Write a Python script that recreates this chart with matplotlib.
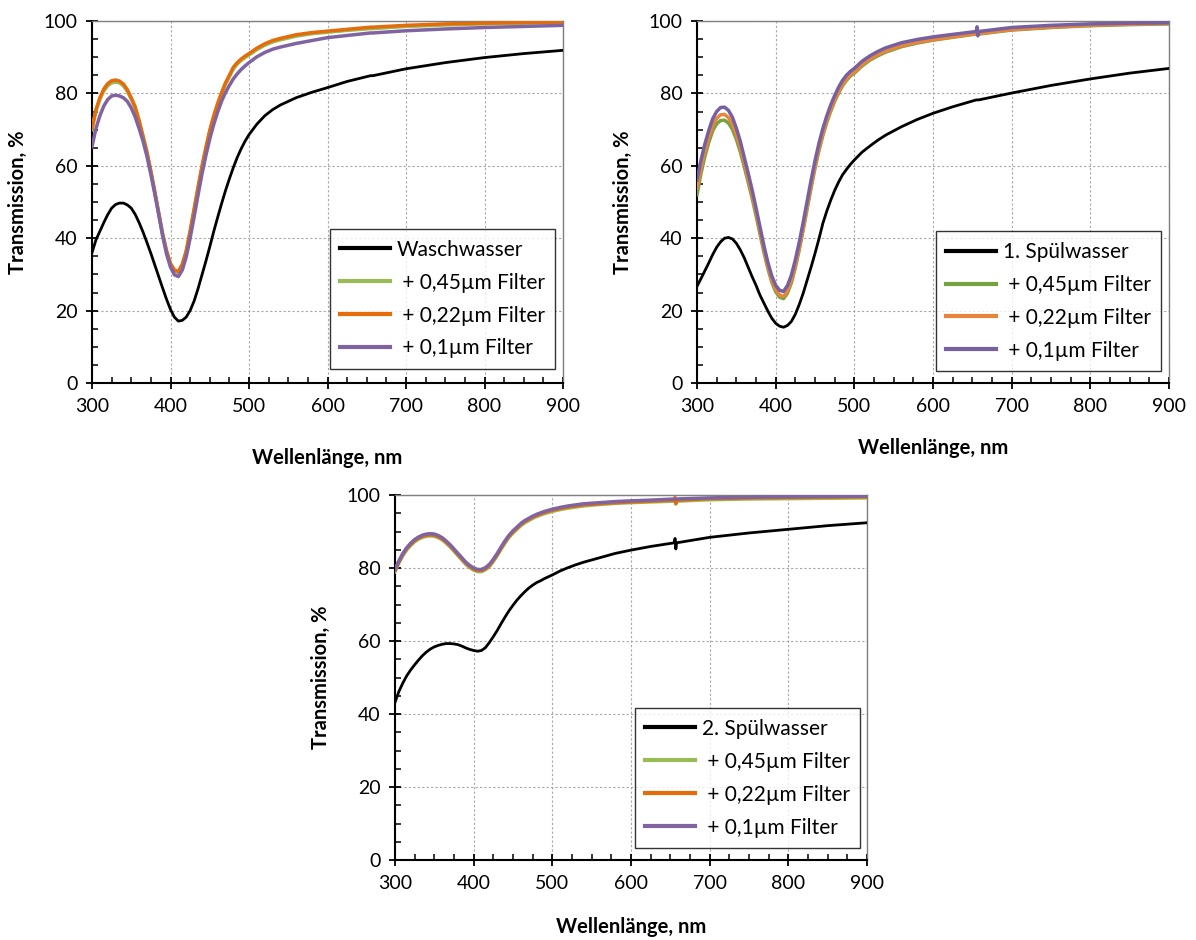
import matplotlib
matplotlib.use("Agg")
import matplotlib.pyplot as plt
from matplotlib.ticker import MultipleLocator

plt.rcParams['font.family'] = ['Lato', 'DejaVu Sans']

# Wellenlängen (nm), gemeinsam für alle drei Diagramme
wl = [300, 305, 310, 315, 320, 325, 330, 335, 340, 345, 350, 355, 360, 365, 370,
      375, 380, 385, 390, 395, 400, 405, 410, 415, 420, 425, 430, 435, 440, 445,
      450, 455, 460, 465, 470, 475, 480, 485, 490, 495, 500, 510, 520, 530, 540,
      560, 580, 600, 625, 655, 656, 657, 658, 700, 750, 800, 850, 900]

# Diagramm 1: Waschwasser
wasch = [36.0, 39.5, 41.9, 44.3, 46.5, 48.3, 49.3, 49.7, 49.7, 49.2, 48.3, 46.6,
         44.3, 41.7, 38.8, 35.8, 32.6, 29.4, 26.2, 23.1, 20.3, 18.2, 17.1, 17.3,
         18.2, 20.0, 22.6, 26.0, 29.8, 33.6, 37.6, 41.8, 45.7, 49.5, 53.1, 56.4,
         59.5, 62.3, 64.7, 66.8, 68.6, 71.5, 73.8, 75.5, 76.8, 78.8, 80.3,
         81.6, 83.3, 84.9, 84.9, 84.9, 84.9, 86.8, 88.5, 89.9, 91.0, 91.9]
wasch_045 = [70.0, 75.0, 78.3, 80.7, 82.1, 82.9, 83.1, 82.9, 82.1, 80.6, 78.4,
             75.9, 72.2, 68.0, 63.6, 58.3, 52.7, 46.8, 41.0, 36.3, 32.8, 31.0,
             30.5, 32.5, 36.2, 41.6, 47.6, 53.6, 59.4, 64.6, 69.4, 73.4, 76.8,
             79.8, 82.5, 84.6, 86.8, 88.1, 89.1, 89.9, 90.6, 92.1, 93.3, 94.2, 94.8,
             95.8, 96.5, 96.9, 97.4, 97.9, 97.9, 97.9, 97.9, 98.5, 98.9, 99.2, 99.4,
             99.5]
wasch_022 = [70.5, 75.5, 78.8, 81.2, 82.7, 83.5, 83.7, 83.4, 82.6, 81.0, 78.8,
             76.3, 72.5, 68.2, 63.8, 58.5, 52.9, 47.0, 41.2, 36.5, 33.0, 31.2,
             30.8, 32.8, 36.5, 42.0, 48.0, 54.0, 59.8, 65.0, 69.8, 73.8, 77.2,
             80.2, 82.9, 85.0, 87.2, 88.5, 89.5, 90.3, 91.0, 92.5, 93.7, 94.6, 95.2,
             96.2, 96.8, 97.2, 97.7, 98.3, 98.3, 98.3, 98.3, 98.8, 99.2, 99.4, 99.6,
             99.7]
wasch_01 = [65.3, 70.3, 73.8, 76.5, 78.3, 79.3, 79.5, 79.3, 78.8, 77.8, 76.0,
            73.5, 70.3, 66.8, 62.6, 57.6, 52.2, 46.5, 40.6, 35.6, 32.0, 29.9,
            29.4, 31.2, 34.8, 40.0, 45.8, 51.8, 57.6, 62.8, 67.4, 71.4, 74.8,
            77.8, 80.2, 82.2, 84.0, 85.4, 86.6, 87.6, 88.5, 90.1, 91.3, 92.2, 92.8,
            93.8, 94.6, 95.4, 96.0, 96.7, 96.7, 96.7, 96.7, 97.3, 97.8, 98.2, 98.5,
            98.8]

# Diagramm 2: 1. Spülwasser
spuel1 = [26.7, 28.8, 31.0, 33.2, 35.5, 37.5, 39.0, 40.0, 40.2, 39.8, 38.6, 36.8,
          34.6, 32.0, 29.4, 27.0, 24.3, 22.1, 19.9, 17.9, 16.5, 15.7, 15.4, 15.9,
          17.0, 19.0, 21.7, 24.8, 28.4, 32.0, 35.8, 39.8, 44.1, 47.5, 50.5, 53.2,
          55.5, 57.5, 59.0, 60.4, 61.6, 63.8, 65.5, 67.1, 68.5, 70.8, 72.8,
          74.5, 76.3, 78.2, 78.2, 78.2, 78.2, 80.1, 82.2, 84.0, 85.6, 86.9]
spuel1_045 = [52.0, 57.8, 62.6, 66.5, 69.7, 71.6, 72.5, 72.6, 71.8, 70.1, 67.3,
              63.9, 59.8, 55.5, 51.1, 46.3, 41.2, 36.2, 31.7, 27.9, 25.2, 23.7,
              23.3, 24.8, 27.7, 31.9, 36.8, 42.3, 48.1, 53.9, 59.4, 64.2, 68.4,
              72.0, 75.1, 77.8, 80.1, 82.1, 83.6, 84.8, 85.6, 87.6, 89.2, 90.4, 91.4,
              92.9, 93.9, 94.7, 95.5, 96.4, 96.4, 96.4, 96.4, 97.5, 98.2, 98.7, 99.0,
              99.2]
spuel1_022 = [53.8, 59.4, 64.0, 67.9, 71.1, 73.1, 74.1, 74.2, 73.3, 71.5, 68.6,
              65.1, 60.9, 56.5, 52.0, 47.1, 42.0, 36.9, 32.3, 28.5, 25.8, 24.3,
              23.9, 25.4, 28.3, 32.4, 37.3, 42.8, 48.6, 54.4, 59.8, 64.6, 68.8,
              72.4, 75.4, 78.1, 80.4, 82.4, 83.9, 85.1, 85.9, 87.9, 89.5, 90.7, 91.7,
              93.1, 94.1, 94.8, 95.6, 96.5, 96.5, 96.5, 96.5, 97.6, 98.3, 98.8, 99.1,
              99.3]
spuel1_01 = [56.1, 61.5, 66.0, 69.8, 73.0, 75.0, 76.1, 76.2, 75.3, 73.4, 70.4,
             66.8, 62.4, 58.0, 53.4, 48.4, 43.2, 38.0, 33.4, 29.6, 27.0, 25.6,
             25.3, 26.9, 29.8, 34.0, 38.9, 44.4, 50.2, 56.0, 61.4, 66.2, 70.3,
             73.8, 76.8, 79.4, 81.7, 83.6, 85.0, 86.1, 86.9, 88.9, 90.4, 91.6, 92.6,
             94.0, 94.9, 95.6, 96.3, 97.1, 98.4, 95.9, 97.1, 98.2, 98.8, 99.2, 99.4,
             99.5]

# Diagramm 3: 2. Spülwasser
spuel2 = [43.2, 46.2, 48.5, 50.5, 52.1, 53.5, 54.8, 56.0, 57.0, 57.8, 58.4, 58.8,
          59.1, 59.3, 59.3, 59.2, 59.0, 58.6, 58.1, 57.7, 57.4, 57.2, 57.4, 58.2,
          59.6, 61.2, 62.9, 64.8, 66.6, 68.3, 69.8, 71.2, 72.4, 73.5, 74.5, 75.3,
          76.0, 76.5, 77.1, 77.6, 78.1, 79.2, 80.1, 80.9, 81.6, 82.8, 84.0,
          84.9, 85.9, 86.9, 88.1, 85.2, 86.9, 88.4, 89.6, 90.6, 91.6, 92.4]
spuel2_045 = [79.0, 81.4, 83.4, 85.0, 86.2, 87.2, 87.9, 88.4, 88.7, 88.8, 88.7,
              88.3, 87.7, 86.8, 85.8, 84.6, 83.4, 82.2, 81.0, 80.1, 79.4, 79.0,
              79.0, 79.5, 80.4, 81.8, 83.4, 85.2, 86.9, 88.4, 89.6, 90.6, 91.6,
              92.4, 93.0, 93.6, 94.1, 94.5, 94.9, 95.2, 95.5, 96.0, 96.4, 96.7, 97.0,
              97.4, 97.7, 97.9, 98.1, 98.3, 98.3, 97.6, 98.3, 98.7, 98.9, 99.0, 99.1,
              99.2]
spuel2_022 = [79.3, 81.7, 83.7, 85.3, 86.5, 87.5, 88.2, 88.7, 89.0, 89.1, 89.0,
              88.6, 88.0, 87.1, 86.1, 84.9, 83.7, 82.5, 81.3, 80.4, 79.7, 79.3,
              79.3, 79.8, 80.7, 82.1, 83.7, 85.5, 87.2, 88.7, 89.9, 90.9, 91.9,
              92.7, 93.3, 93.9, 94.4, 94.8, 95.2, 95.5, 95.8, 96.3, 96.7, 97.0, 97.3,
              97.6, 97.9, 98.1, 98.3, 98.6, 99.3, 97.6, 98.6, 99.0, 99.2, 99.3, 99.4,
              99.5]
spuel2_01 = [79.6, 82.0, 84.0, 85.6, 86.8, 87.8, 88.5, 89.0, 89.3, 89.4, 89.3,
             88.9, 88.3, 87.4, 86.4, 85.2, 84.0, 82.8, 81.6, 80.7, 80.0, 79.6,
             79.6, 80.1, 81.0, 82.4, 84.0, 85.8, 87.5, 89.0, 90.2, 91.2, 92.2,
             93.0, 93.6, 94.2, 94.7, 95.1, 95.5, 95.8, 96.1, 96.6, 97.0, 97.3, 97.6,
             97.9, 98.2, 98.4, 98.6, 98.9, 98.9, 98.9, 98.9, 99.2, 99.4, 99.5, 99.6,
             99.7]

filter_labels = [" + 0,45µm Filter", " + 0,22µm Filter", " + 0,1µm Filter"]

panels = [
    # (Achsen in Pixeln, Basis-Label, Reihen, Farben, xlabel-Abstand, Legendenanker)
    ([92, 21, 563, 383], "Waschwasser", [wasch, wasch_045, wasch_022, wasch_01],
     ["#9BBB59", "#E46C0A", "#8064A2"], 24, (0.983, 0.039)),
    ([697, 21, 1169, 383], "1. Spülwasser", [spuel1, spuel1_045, spuel1_022, spuel1_01],
     ["#77A33E", "#E8853D", "#7660A0"], 17, (0.983, 0.033)),
    ([395, 495, 867, 860], "2. Spülwasser", [spuel2, spuel2_045, spuel2_022, spuel2_01],
     ["#9BBB59", "#E46C0A", "#8064A2"], 18, (0.985, 0.033)),
]

W, H = 1196, 940
fig = plt.figure(figsize=(W / 100, H / 100), dpi=100)

for (x0, y0, x1, y1), base_label, series, colors, xpad, anchor in panels:
    ax = fig.add_axes([x0 / W, 1 - y1 / H, (x1 - x0) / W, (y1 - y0) / H])
    ax.plot(wl, series[0], color="black", lw=2.0, label=base_label, zorder=3)
    for vals, c, lab in zip(series[1:], colors, filter_labels):
        ax.plot(wl, vals, color=c, lw=2.5, label=lab, zorder=3)

    ax.set_xlim(300, 900)
    ax.set_ylim(0, 100)
    ax.xaxis.set_major_locator(MultipleLocator(100))
    ax.xaxis.set_minor_locator(MultipleLocator(25))
    ax.yaxis.set_major_locator(MultipleLocator(20))
    ax.yaxis.set_minor_locator(MultipleLocator(5))
    ax.tick_params(which="major", direction="inout", length=9, width=1.3,
                   labelsize=14, pad=6)
    ax.tick_params(which="minor", direction="in", length=4, width=1.1)
    ax.grid(True, which="major", color="#A6A6A6", linestyle=(0, (2, 2)), lw=0.8)

    for side in ("left", "bottom"):
        ax.spines[side].set_linewidth(1.5)
        ax.spines[side].set_color("black")
    for side in ("top", "right"):
        ax.spines[side].set_linewidth(1.0)
        ax.spines[side].set_color("#7F7F7F")

    ax.set_xlabel("Wellenlänge, nm", fontsize=14.5, fontweight="bold", labelpad=xpad)
    ax.set_ylabel("Transmission, %", fontsize=14.5, fontweight="bold", labelpad=11)

    leg = ax.legend(loc="lower right", bbox_to_anchor=anchor, borderaxespad=0,
                    fontsize=15, frameon=True, fancybox=False, edgecolor="black",
                    handlelength=2.4, labelspacing=0.62, borderpad=0.5,
                    handletextpad=0.3)
    leg.get_frame().set_linewidth(1.0)
    for line in leg.get_lines():
        line.set_linewidth(3.0)

fig.savefig("out.png", dpi=100, facecolor="white")
